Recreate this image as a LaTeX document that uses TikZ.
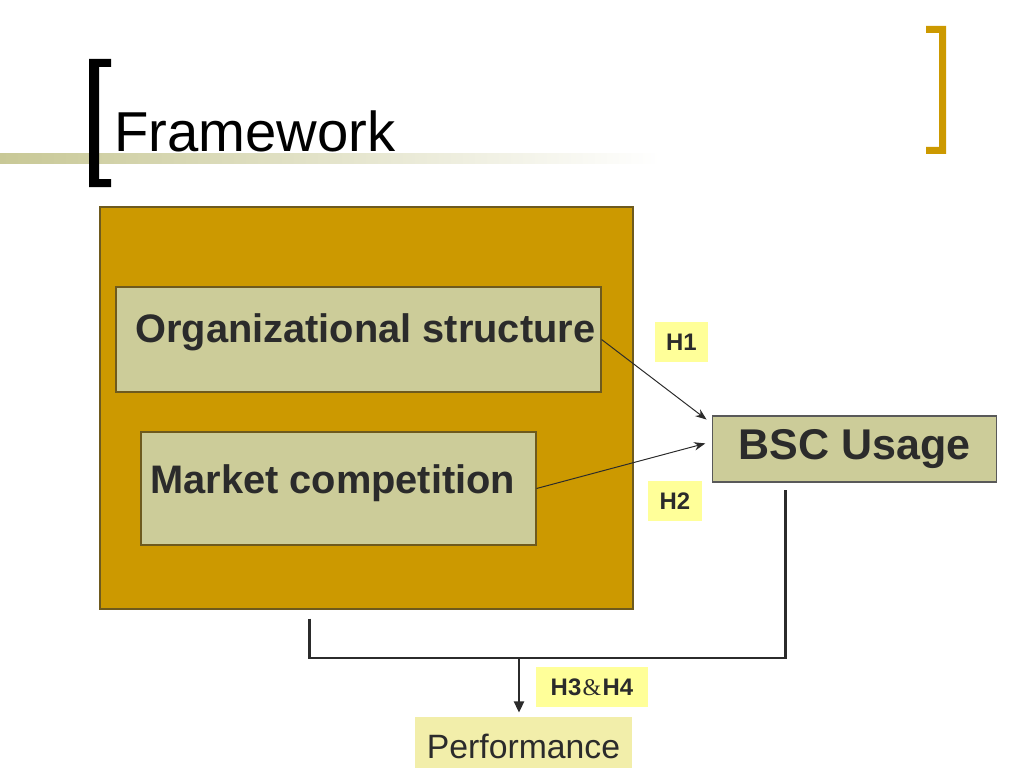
\documentclass[tikz,border=0pt]{standalone}
\usepackage{fontspec}
\setmainfont{Liberation Sans}
\newfontfamily\ampfont{Liberation Serif}
\RequirePackage{xcolor}
\definecolor{slidegold}{RGB}{204,153,0}
\definecolor{slidekhaki}{RGB}{204,204,153}
\definecolor{slideolive}{RGB}{200,200,150}
\definecolor{hypyellow}{RGB}{255,255,153}
\definecolor{perfyellow}{RGB}{242,238,170}
\definecolor{inkgray}{RGB}{43,43,43}
\definecolor{edgebrown}{RGB}{110,90,30}
\usetikzlibrary{calc}
\usetikzlibrary{positioning}
\usetikzlibrary{fit,arrows.meta}
\tikzset{
  panel/.style={draw=edgebrown, line width=0.8pt, inner sep=0pt},
  factor/.style={panel, fill=slidekhaki},
  factortext/.style={anchor=base west, inner sep=0pt, text=inkgray, font=\fontsize{28.3}{32}\selectfont\bfseries},
  hyp/.style={fill=hypyellow, inner sep=0pt, minimum height=1cm, text=inkgray, font=\fontsize{17}{20}\selectfont\bfseries},
  link/.style={draw=inkgray, line width=1.8pt},
  effect/.style={draw=inkgray, line width=0.7pt, -{Stealth[length=8pt,width=6pt]}, shorten >=0.18cm}
}

\begin{document}
\begin{tikzpicture}[x=0.025cm, y=-0.025cm]
  \useasboundingbox (0,0) rectangle (1024,768);

  \shade[left color=slideolive, middle color=slideolive!75, right color=white] (0,154) rectangle (660,164);
  \fill[black] (89,59) -- (111,59) -- (111,67) -- (99,67) -- (99,179) -- (111,179) -- (111,187) -- (89,187) -- cycle;
  \fill[slidegold] (946,26) -- (926,26) -- (926,33) -- (939,33) -- (939,147) -- (926,147) -- (926,154) -- (946,154) -- cycle;
  \node[anchor=base west, inner sep=0pt, font=\fontsize{40}{44}\selectfont] (title) at (114,151) {Framework};

  \node[panel, fill=slidegold, fit={(100,207) (633,609)}] (drivers) {};
  \node[factor, fit={(116,287) (601,392)}] (org) {};
  \node[factortext] (orgtext) at (135,342) {Organizational structure};
  \node[factor, fit={(141,432) (536,545)}] (market) {};
  \node[factortext] (markettext) at (150,493) {Market competition};

  \node[factor, draw=gray!70!black, minimum width=7.08cm, minimum height=1.65cm, text=inkgray, font=\fontsize{30.6}{34}\selectfont\bfseries] (bsc) at (854.5,449) {BSC Usage};

  \node[hyp, minimum width=1.33cm] (h1) at (681.5,342) {H1};
  \node[hyp, minimum width=1.33cm] (h2) at (675,501) {H2};
  \node[hyp, minimum width=2.8cm] (h34) at (592,687) {H3\kern1pt{\ampfont\mdseries\&}\kern1pt H4};
  \node[fill=perfyellow, inner sep=0pt, minimum width=5.43cm, minimum height=1.45cm, text=inkgray, font=\fontsize{24}{28}\selectfont] (perf) at (523.5,746) {Performance};

  \draw[effect] (org.east) -- (bsc.170);
  \draw[effect] (market.east) -- (bsc.177);

  \coordinate (goldfoot) at ($(drivers.south west)+(210,9)$);
  \coordinate (bscfoot) at ($(bsc.south west)+(73,7)$);
  \coordinate (split) at (519,658);
  \draw[link] (goldfoot) |- (split) -| (bscfoot);
  \draw[link, -{Triangle[length=8pt,width=7pt]}, shorten >=0.1cm] (split) -- (split |- perf.north);

\end{tikzpicture}
\end{document}
